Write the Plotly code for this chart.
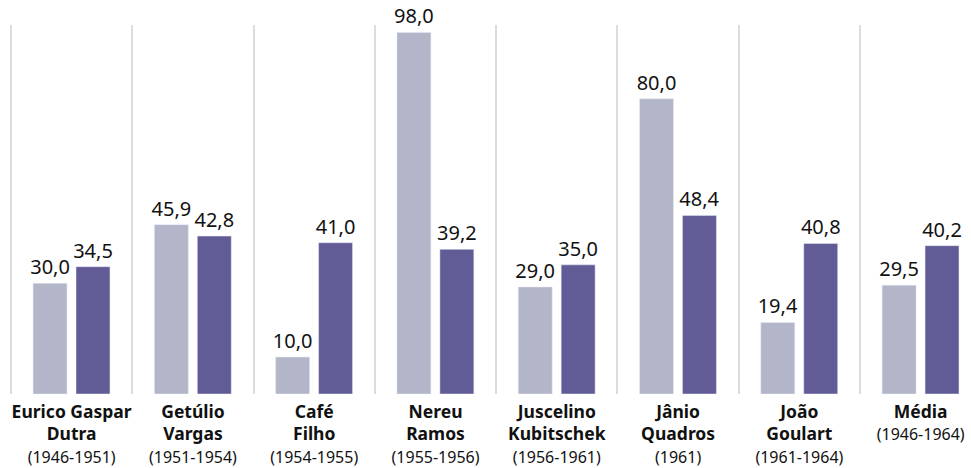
import plotly.graph_objects as go

names = ["Eurico Gaspar<br>Dutra", "Getúlio<br>Vargas", "Café<br>Filho", "Nereu<br>Ramos",
         "Juscelino<br>Kubitschek", "Jânio<br>Quadros", "João<br>Goulart", "Média"]
periods = ["(1946-1951)", "(1951-1954)", "(1954-1955)", "(1955-1956)",
           "(1956-1961)", "(1961)", "(1961-1964)", "(1946-1964)"]
series_a = [30.0, 45.9, 10.0, 98.0, 29.0, 80.0, 19.4, 29.5]
series_b = [34.5, 42.8, 41.0, 39.2, 35.0, 48.4, 40.8, 40.2]

LIGHT = "#b3b5c9"
DARK = "#625c96"
FONT = "Noto Sans"
TXT = "#111111"

def fmt(v):
    return f"{v:.1f}".replace(".", ",")

x = list(range(len(names)))
ticktext = [f"<b>{n}</b><br><span style='font-size:16px'>{p}</span>" for n, p in zip(names, periods)]

fig = go.Figure()
for vals, col, off in ((series_a, LIGHT, -0.318), (series_b, DARK, 0.036)):
    fig.add_trace(go.Bar(x=x, y=vals, marker_color=col, width=0.28, offset=off,
                         text=[fmt(v) for v in vals], textposition="outside",
                         constraintext="none",
                         textfont=dict(size=20, color=TXT, family=FONT),
                         cliponaxis=False, hoverinfo="skip"))

left = -0.5 - 11 / 121.29
right = left + 971 / 121.29

fig.update_layout(
    width=971, height=468,
    margin=dict(l=0, r=0, t=25, b=74),
    paper_bgcolor="white", plot_bgcolor="white",
    showlegend=False,
    barmode="overlay",
    font=dict(family=FONT, size=16, color=TXT),
    xaxis=dict(range=[left, right], tickmode="array", tickvals=x, ticktext=ticktext,
               showgrid=False, zeroline=False, showline=False, ticks="",
               automargin=False, ticklabelstandoff=5,
               tickfont=dict(size=17.5, family=FONT, color=TXT),
               minor=dict(tickmode="array", tickvals=[i - 0.5 for i in x],
                          showgrid=True, gridcolor="#dcdcdc", gridwidth=2, ticks="")),
    yaxis=dict(range=[0, 100], showgrid=False, zeroline=False, showticklabels=False,
               showline=False, ticks="", automargin=False),
)

fig.write_html("out.html")
